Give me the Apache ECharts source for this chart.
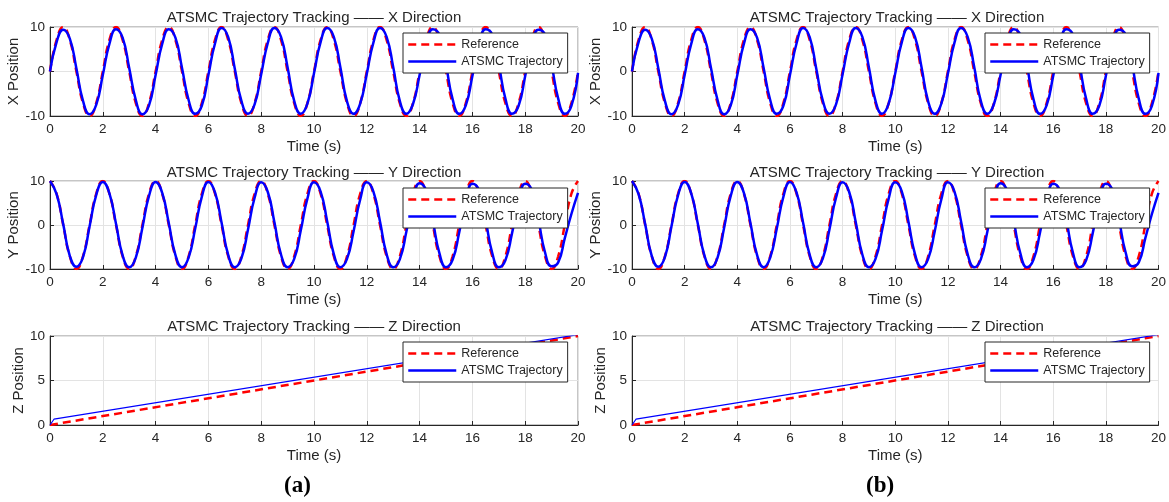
<!DOCTYPE html>
<html>
<head>
<meta charset="utf-8">
<title>ATSMC Trajectory Tracking</title>
<script src="https://cdn.jsdelivr.net/npm/echarts@6/dist/echarts.min.js"></script>
<style>
  html, body { margin: 0; padding: 0; background: #fff; }
  #chart { width: 1169px; height: 502px; }
</style>
</head>
<body>
<div id="chart"></div>
<script>
const sampleTimes = [
  0, 0.25, 0.5, 0.75, 1, 1.25, 1.5, 1.75, 2, 2.25, 2.5, 2.75, 3, 3.25, 3.5, 3.75,
  4, 4.25, 4.5, 4.75, 5, 5.25, 5.5, 5.75, 6, 6.25, 6.5, 6.75, 7, 7.25, 7.5, 7.75,
  8, 8.25, 8.5, 8.75, 9, 9.25, 9.5, 9.75, 10, 10.25, 10.5, 10.75, 11, 11.25, 11.5, 11.75,
  12, 12.25, 12.5, 12.75, 13, 13.25, 13.5, 13.75, 14, 14.25, 14.5, 14.75, 15, 15.25, 15.5, 15.75,
  16, 16.25, 16.5, 16.75, 17, 17.25, 17.5, 17.75, 18, 18.25, 18.5, 18.75, 19, 19.25, 19.5, 19.75,
  20
];

const xReference = [
  0, 7.1, 10, 7.1, 0, -7.1, -10, -7.1, 0, 7.1, 10, 7.1, 0, -7.1, -10, -7.1,
  0, 7.1, 10, 7.1, 0, -7.1, -10, -7.1, 0, 7.1, 10, 7.1, 0, -7.1, -10, -7.1,
  0, 7.1, 10, 7.1, 0, -7.1, -10, -7.1, 0, 7.1, 10, 7.1, 0, -7.1, -10, -7.1,
  0, 7.1, 10, 7.1, 0, -7.1, -10, -7.1, 0, 7.1, 10, 7.1, 0, -7.1, -10, -7.1,
  0, 7.1, 10, 7.1, 0, -7.1, -10, -7.1, 0, 7.1, 10, 7.1, 0, -7.1, -10, -7.1,
  0
];

const xAtsmc = [
  0, 6.6, 9.4, 7.4, 0.7, -6.6, -9.6, -7.5, -0.8, 6.2, 9.5, 7.6, 0.8, -6.4, -9.6, -7.6,
  -0.8, 6.2, 9.5, 7.6, 0.8, -6.4, -9.5, -7.7, -0.8, 6.3, 9.8, 7.7, 0.6, -6.6, -9.5, -7.4,
  -0.6, 6.4, 9.8, 7.8, 0.9, -6.6, -9.5, -7.2, -0.4, 6.6, 9.8, 7.8, 0.9, -6.7, -9.5, -7.2,
  -0.5, 6.5, 9.8, 7.8, 1.0, -6.6, -9.5, -7.3, -0.8, 6.0, 9.5, 8.2, 1.5, -6.2, -9.5, -7.6,
  -1.0, 5.8, 9.5, 8.3, 1.6, -6.1, -9.5, -7.7, -1.0, 5.8, 9.4, 8.3, 1.6, -6.1, -9.5, -7.7,
  -0.3
];

const yReference = [
  10, 7.1, 0, -7.1, -10, -7.1, 0, 7.1, 10, 7.1, 0, -7.1, -10, -7.1, 0, 7.1,
  10, 7.1, 0, -7.1, -10, -7.1, 0, 7.1, 10, 7.1, 0, -7.1, -10, -7.1, 0, 7.1,
  10, 7.1, 0, -7.1, -10, -7.1, 0, 7.1, 10, 7.1, 0, -7.1, -10, -7.1, 0, 7.1,
  10, 7.1, 0, -7.1, -10, -7.1, 0, 7.1, 10, 7.1, 0, -7.1, -10, -7.1, 0, 7.1,
  10, 7.1, 0, -7.1, -10, -7.1, 0, 7.1, 10, 7.1, 0, -7.1, -10, -7.1, 0, 7.1,
  10
];

const yAtsmc = [
  10, 7.0, 0.2, -7.0, -9.5, -7.3, -0.3, 6.8, 9.8, 7.2, 0.3, -6.9, -9.6, -7.4, -0.6, 6.6,
  9.8, 7.3, 0.4, -6.8, -9.6, -7.4, -0.8, 6.4, 9.8, 7.4, 0.5, -6.8, -9.6, -7.6, -1.0, 6.2,
  9.7, 7.5, 0.6, -6.7, -9.6, -7.7, -1.2, 6.0, 9.7, 7.6, 0.8, -6.6, -9.6, -7.7, -1.4, 5.8,
  9.7, 7.6, 0.8, -6.6, -9.6, -7.8, -1.5, 5.6, 9.5, 7.8, 1.0, -6.4, -9.6, -7.9, -1.7, 5.4,
  9.4, 7.9, 1.2, -6.3, -9.6, -8.0, -1.9, 5.2, 9.4, 8.0, 1.3, -6.2, -9.4, -8.5, -3.0, 2.5,
  7.3
];

const zReferenceTimes = [0, 20];
const zReference = [0, 10];
const zAtsmcTimes = [0, 0.15, 20];
const zAtsmc = [0, 0.65, 10.15];

const directions = ['X', 'Y', 'Z'];
const panelLabels = ['(a)', '(b)'];

const FONT = 'Liberation Sans, Arial, sans-serif';
const INK = '#262626';
const RED = '#ff0000';
const BLUE = '#0000ff';

function pairs(ts, vs) {
  return ts.map((t, i) => [t, vs[i]]);
}

const seriesData = [
  { ref: pairs(sampleTimes, xReference), ctl: pairs(sampleTimes, xAtsmc) },
  { ref: pairs(sampleTimes, yReference), ctl: pairs(sampleTimes, yAtsmc) },
  { ref: pairs(zReferenceTimes, zReference), ctl: pairs(zAtsmcTimes, zAtsmc) }
];

// layout of the six axes
const panelLeft = [50, 632];
const panelWidth = [528, 530];
const rowTop = [27, 181, 336];
const rowHeight = [89, 88, 89];
const legendLeft = [403, 985];
const legendTop = [33, 188, 342];
const titleTop = [10, 165, 319];

function axisCommon() {
  return {
    axisLine: { show: true, onZero: false, lineStyle: { color: INK, width: 1 } },
    axisTick: { show: true, inside: true, length: 4, lineStyle: { color: INK } },
    splitLine: { show: true, lineStyle: { color: '#e3e3e3', width: 1 } }
  };
}

function buildOption() {
  const grid = [], xAxis = [], yAxis = [], series = [], title = [], legend = [];
  panelLeft.forEach((left, p) => {
    directions.forEach((dir, r) => {
      const idx = grid.length;
      const isZ = dir === 'Z';
      grid.push({
        left: left, top: rowTop[r], width: panelWidth[p], height: rowHeight[r],
        show: true, borderColor: '#8c8c8c', borderWidth: 1, backgroundColor: '#fff'
      });
      xAxis.push(Object.assign(axisCommon(), {
        type: 'value', gridIndex: idx, min: 0, max: 20, interval: 2,
        name: 'Time (s)', nameLocation: 'middle', nameGap: 23,
        nameTextStyle: { fontFamily: FONT, fontSize: 15, color: INK },
        axisLabel: { fontFamily: FONT, fontSize: 13.5, color: INK, margin: 6 }
      }));
      yAxis.push(Object.assign(axisCommon(), {
        type: 'value', gridIndex: idx,
        min: isZ ? 0 : -10, max: 10, interval: isZ ? 5 : 10,
        name: dir + ' Position', nameLocation: 'middle', nameGap: 21,
        nameTextStyle: { fontFamily: FONT, fontSize: 15, color: INK },
        axisLabel: { fontFamily: FONT, fontSize: 13.5, color: INK, margin: 5 }
      }));
      title.push({
        text: 'ATSMC Trajectory Tracking \u2014\u2014 ' + dir + ' Direction',
        left: left + panelWidth[p] / 2, top: titleTop[r], textAlign: 'center',
        padding: 0,
        textStyle: { fontFamily: FONT, fontSize: 15, fontWeight: 'normal', color: INK }
      });
      const d = seriesData[r];
      series.push({
        name: 'Reference', type: 'line', xAxisIndex: idx, yAxisIndex: idx,
        data: d.ref, showSymbol: false, symbol: 'none', smooth: !isZ,
        itemStyle: { color: RED },
        lineStyle: { color: RED, width: 2.5, type: [8, 5] }, z: 2
      });
      series.push({
        name: 'ATSMC Trajectory', type: 'line', xAxisIndex: idx, yAxisIndex: idx,
        data: d.ctl, showSymbol: false, symbol: 'none', smooth: !isZ,
        itemStyle: { color: BLUE },
        lineStyle: { color: BLUE, width: isZ ? 1.2 : 2.5 }, z: 3
      });
      legend.push({
        orient: 'vertical', left: legendLeft[p], top: legendTop[r],
        itemWidth: 48, itemHeight: 12, itemGap: 4,
        padding: [5, 5, 5, 4],
        backgroundColor: '#fff', borderColor: INK, borderWidth: 1, borderRadius: 0,
        textStyle: { fontFamily: FONT, fontSize: 12.5, color: INK },
        selectedMode: false,
        data: [
          { name: 'Reference', itemStyle: { opacity: 0 },
            lineStyle: { color: RED, width: 2.5, type: [8, 5] } },
          { name: 'ATSMC Trajectory', itemStyle: { opacity: 0 },
            lineStyle: { color: BLUE, width: 2.5, type: 'solid' } }
        ]
      });
    });
  });
  return {
    animation: false,
    backgroundColor: '#fff',
    title: title,
    legend: legend,
    grid: grid,
    xAxis: xAxis,
    yAxis: yAxis,
    series: series,
    graphic: panelLabels.map((label, p) => ({
      type: 'text',
      left: p === 0 ? 284 : 866,
      top: 475,
      style: {
        text: label,
        font: 'bold 23px "Liberation Serif", "Times New Roman", serif',
        fill: '#000'
      }
    }))
  };
}

const chart = echarts.init(document.getElementById('chart'));
chart.setOption(buildOption());
</script>
</body>
</html>
